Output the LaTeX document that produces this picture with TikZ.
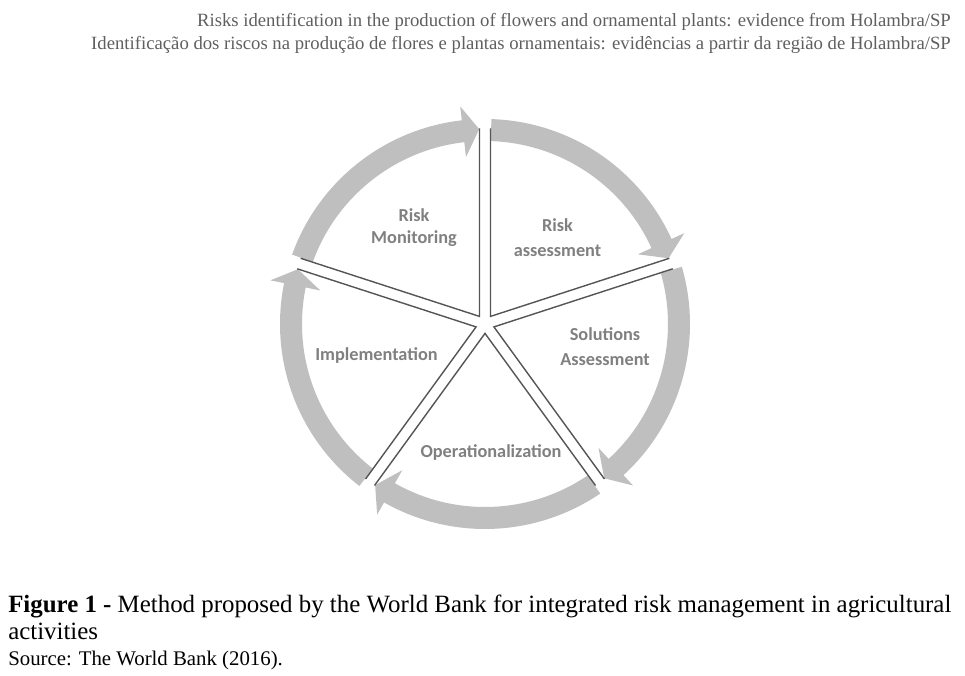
\documentclass[tikz,border=0pt]{standalone}
\usepackage{fontspec}
\setmainfont{Liberation Serif}
\newfontfamily\stagefont{Carlito}
\usetikzlibrary{calc}
\definecolor{ringgray}{RGB}{191,191,191}
\definecolor{spokegray}{RGB}{85,85,85}
\definecolor{stagegray}{RGB}{128,128,128}
\definecolor{headgray}{RGB}{95,95,95}
\tikzset{
  stage/.style={font=\stagefont\bfseries\fontsize{13}{17.8}\selectfont, text=stagegray, align=center, inner sep=0pt, anchor=base},
  spoke/.style={draw=spokegray, line width=1pt},
  headline/.style={font=\fontsize{13.3}{15}\selectfont, text=headgray, inner sep=0pt, anchor=base east},
  capline/.style={inner sep=0pt, anchor=base west}
}
\begin{document}
\begin{tikzpicture}[x=0.025cm,y=0.025cm]
\useasboundingbox (-485,-352) rectangle (480,324);
\node[headline] (head1) at (466,297) {Risks identification in the production of flowers and ornamental plants: evidence from Holambra/SP};
\node[headline] (head2) at (466,274) {Identificação dos riscos na produção de flores e plantas ornamentais: evidências a partir da região de Holambra/SP};
\foreach \s in {90,18,-54,-126,162}{
  \fill[ringgray] (\s-1.8:205) arc[start angle=\s-1.8, end angle=\s-65.5, radius=205] -- (\s-65.5:219) -- (\s-70.3:195) -- (\s-65.5:168) -- (\s-65.5:183) arc[start angle=\s-65.5, end angle=\s-1.8, radius=183] -- cycle;
  \coordinate (apex) at (\s-36:9.4);
  \draw[spoke] ($(apex)+(\s:188)$) -- (apex) -- ($(apex)+(\s-72:188)$);
}
\node[stage] (monitoring) at (-71,80) {Risk\\[-1.6pt]Monitoring};
\node[stage] (assessment) at (72.5,67) {Risk\\assessment};
\node[stage] (solutions) at (120,-42) {Solutions\\Assessment};
\node[stage] (implementation) at (-108.5,-37) {Implementation};
\node[stage] (operational) at (6,-134) {Operationalization};
\node[capline, font=\fontsize{17.7}{20}\selectfont] (caption) at (-477,-288) {\textbf{Figure 1 -} Method proposed by the World Bank for integrated risk management in agricultural};
\node[capline, font=\fontsize{17.7}{20}\selectfont] (caption2) at (-477,-315) {activities};
\node[capline, font=\fontsize{14.8}{17}\selectfont] (source) at (-477,-341) {Source: The World Bank (2016).};
\end{tikzpicture}
\end{document}
